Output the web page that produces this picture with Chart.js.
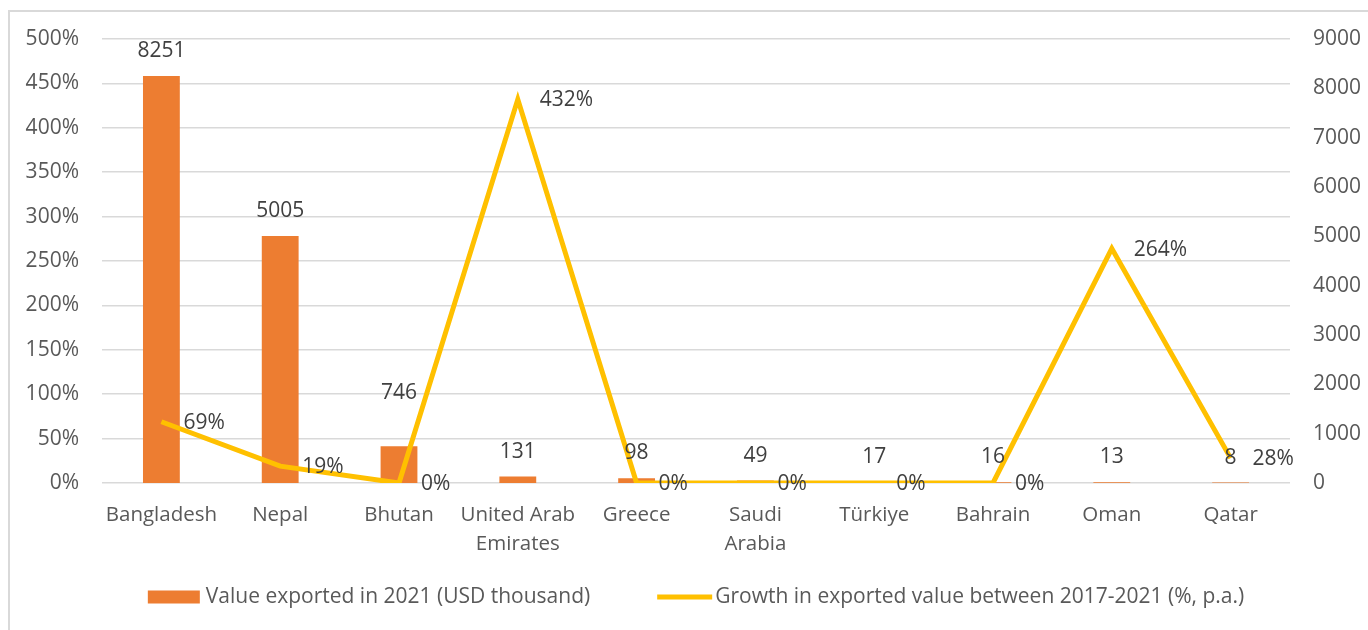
<!DOCTYPE html>
<html>
<head>
<meta charset="utf-8">
<script src="https://cdn.jsdelivr.net/npm/chart.js@4.4.0/dist/chart.umd.min.js"></script>
<style>
  html, body { margin: 0; padding: 0; background: #ffffff; }
  #wrap { position: relative; width: 1368px; height: 630px; overflow: hidden; }
  #frame { position: absolute; left: 8px; top: 10px; width: 1380px; height: 640px; border: 2px solid #d9d9d9; box-sizing: border-box; }
  canvas { position: absolute; left: 0; top: 0; }
</style>
</head>
<body>
<div id="wrap">
  <div id="frame"></div>
  <canvas id="c" width="1368" height="630"></canvas>
</div>
<script>
const categories = ['Bangladesh', 'Nepal', 'Bhutan', ['United Arab', 'Emirates'], 'Greece', ['Saudi', 'Arabia'], 'Türkiye', 'Bahrain', 'Oman', 'Qatar'];
const exportValues = [8251, 5005, 746, 131, 98, 49, 17, 16, 13, 8];
const growthPct = [69, 19, 0, 432, 0, 0, 0, 0, 264, 28];
const leftTicks = [0, 50, 100, 150, 200, 250, 300, 350, 400, 450, 500];
const rightTicks = [0, 1000, 2000, 3000, 4000, 5000, 6000, 7000, 8000, 9000];
const barLabel = 'Value exported in 2021 (USD thousand)';
const lineLabel = 'Growth in exported value between 2017-2021 (%, p.a.)';

const FONT = "'Open Sans', sans-serif";
const TICK_COLOR = '#595959';
const LABEL_COLOR = '#404040';
const BAR_COLOR = '#ED7D31';
const LINE_COLOR = '#FFC000';

const labelPlugin = {
  id: 'valueLabels',
  afterDatasetsDraw(chart) {
    const ctx = chart.ctx;
    ctx.save();
    ctx.font = "21px " + FONT;
    ctx.fillStyle = LABEL_COLOR;
    ctx.textBaseline = 'middle';
    const barMeta = chart.getDatasetMeta(0);
    const extra = chart.options.plugins.valueLabels.barExtraLift || [];
    barMeta.data.forEach((el, i) => {
      ctx.textAlign = 'center';
      ctx.fillText(String(chart.data.datasets[0].data[i]), el.x, el.y - 25 - (extra[i] || 0));
    });
    const lineMeta = chart.getDatasetMeta(1);
    lineMeta.data.forEach((el, i) => {
      ctx.textAlign = 'left';
      ctx.fillText(chart.data.datasets[1].data[i] + '%', el.x + 22, el.y + 1);
    });
    ctx.restore();
  }
};

const legendPlugin = {
  id: 'bottomLegend',
  afterDraw(chart) {
    const ctx = chart.ctx;
    const ca = chart.chartArea;
    const o = chart.options.plugins.bottomLegend;
    ctx.save();
    ctx.font = o.fontSize + "px " + FONT;
    ctx.textBaseline = 'middle';
    ctx.textAlign = 'left';
    const ds = chart.data.datasets;
    const w0 = ctx.measureText(ds[0].label).width;
    const w1 = ctx.measureText(ds[1].label).width;
    const total = o.boxW + o.textGap + w0 + o.itemGap + o.lineW + o.textGapLine + w1;
    let x = (ca.left + ca.right) / 2 - total / 2;
    const y = ca.bottom + o.offsetY;
    ctx.fillStyle = ds[0].backgroundColor;
    ctx.fillRect(x, y - o.boxH / 2, o.boxW, o.boxH);
    x += o.boxW + o.textGap;
    ctx.fillStyle = TICK_COLOR;
    ctx.fillText(ds[0].label, x, y);
    x += w0 + o.itemGap;
    ctx.strokeStyle = ds[1].borderColor;
    ctx.lineWidth = ds[1].borderWidth;
    ctx.beginPath();
    ctx.moveTo(x, y);
    ctx.lineTo(x + o.lineW, y);
    ctx.stroke();
    x += o.lineW + o.textGapLine;
    ctx.fillStyle = TICK_COLOR;
    ctx.fillText(ds[1].label, x, y);
    ctx.restore();
  }
};

new Chart(document.getElementById('c'), {
  data: {
    labels: categories,
    datasets: [
      {
        type: 'bar',
        label: barLabel,
        data: exportValues,
        yAxisID: 'yRight',
        backgroundColor: BAR_COLOR,
        categoryPercentage: 1,
        barPercentage: 0.31,
        order: 2
      },
      {
        type: 'line',
        label: lineLabel,
        data: growthPct,
        yAxisID: 'yLeft',
        borderColor: LINE_COLOR,
        backgroundColor: LINE_COLOR,
        borderWidth: 5,
        pointRadius: 0,
        tension: 0,
        borderJoinStyle: 'miter',
        order: 1
      }
    ]
  },
  plugins: [labelPlugin, legendPlugin],
  options: {
    responsive: false,
    animation: false,
    layout: { padding: { top: 39, left: 0, right: 0, bottom: 53 } },
    plugins: {
      tooltip: { enabled: false },
      legend: { display: false },
      valueLabels: { barExtraLift: [0, 0, 28, 0, 0, 0, 0, 0, 0, 0] },
      bottomLegend: { fontSize: 21, boxW: 52, boxH: 13, textGap: 6, itemGap: 67, lineW: 55, textGapLine: 3, offsetY: 114 }
    },
    scales: {
      x: {
        offset: true,
        grid: { display: false, drawTicks: false },
        border: { display: false },
        ticks: {
          font: { family: FONT, size: 20.5, lineHeight: 1.45 },
          color: TICK_COLOR,
          padding: 17,
          maxRotation: 0,
          autoSkip: false
        },
        afterFit(scale) { scale.height = 94; }
      },
      yLeft: {
        position: 'left',
        min: 0, max: 500,
        afterBuildTicks(scale) { scale.ticks = leftTicks.map(v => ({ value: v })); },
        grid: { color: '#d9d9d9', lineWidth: 1.5, drawTicks: false },
        border: { display: false },
        ticks: {
          font: { family: FONT, size: 21 },
          color: TICK_COLOR,
          padding: 23,
          callback: v => v + '%'
        },
        afterFit(scale) { scale.width = 102; }
      },
      yRight: {
        position: 'right',
        min: 0, max: 9000,
        afterBuildTicks(scale) { scale.ticks = rightTicks.map(v => ({ value: v })); },
        grid: { display: false, drawTicks: false },
        border: { display: false },
        ticks: {
          font: { family: FONT, size: 21 },
          color: TICK_COLOR,
          padding: 23,
          callback: v => String(v)
        },
        afterFit(scale) { scale.width = 78; }
      }
    }
  }
});
</script>
</body>
</html>
